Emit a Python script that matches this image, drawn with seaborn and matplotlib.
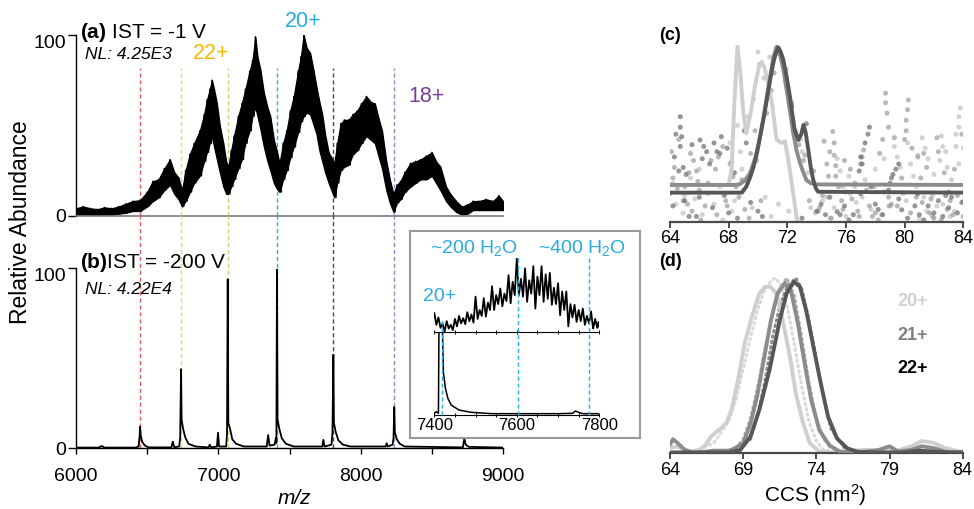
import numpy as np
import pandas as pd
import matplotlib
matplotlib.use("Agg")
import matplotlib.pyplot as plt
import matplotlib.transforms as mtransforms
import seaborn as sns

sns.set_theme(style="white")
plt.rcParams['font.family'] = ['Liberation Sans', 'DejaVu Sans']
plt.rcParams['mathtext.fontset'] = 'custom'
plt.rcParams['mathtext.rm'] = 'Liberation Sans'
plt.rcParams['mathtext.it'] = 'Liberation Sans:italic'
plt.rcParams['mathtext.bf'] = 'Liberation Sans:bold'
for key in ['text.color', 'xtick.color', 'ytick.color', 'axes.labelcolor']:
    plt.rcParams[key] = 'black'

# ---------------- data ----------------
# (a) IST = -1 V : noisy spectrum, upper / lower envelope
mz_a = [6000, 6050, 6100, 6150, 6200, 6250, 6300, 6350, 6400, 6450, 6500, 6540, 6580, 6620, 6660,
        6690, 6720, 6745, 6770, 6800, 6830, 6870, 6900, 6920, 6940, 6955, 6970, 6990, 7010, 7035,
        7055, 7070, 7090, 7110, 7140, 7165, 7190, 7220, 7240, 7260, 7275, 7295, 7320, 7345, 7365,
        7390, 7410, 7430, 7455, 7480, 7505, 7530, 7560, 7580, 7600, 7620, 7645, 7670, 7690, 7710,
        7730, 7750, 7775, 7795, 7815, 7835, 7860, 7885, 7915, 7945, 7975, 8005, 8040, 8070, 8100,
        8125, 8150, 8180, 8205, 8230, 8255, 8280, 8310, 8350, 8385, 8420, 8460, 8500, 8530, 8560,
        8600, 8630, 8670, 8710, 8750, 8790, 8830, 8880, 8930, 8970, 9000]
hi_a = [4, 5, 4, 3.5, 4.5, 4, 5, 6.5, 8, 8.5, 13, 19, 20, 26, 31,
        24, 21, 14, 25, 34, 40, 47, 56, 64, 70, 75, 70, 62, 50, 40,
        30, 27, 36, 44, 55, 62, 70, 80, 86, 99, 88, 81, 68, 60, 55,
        42, 36, 29, 40, 47, 58, 66, 80, 88, 100, 93, 90, 80, 71, 63,
        56, 45, 35, 32, 29, 40, 51, 53, 53, 56, 58, 62, 66, 63, 62,
        54, 47, 30, 20, 12, 17, 19, 24, 29, 30, 31, 33, 35, 30, 27,
        16, 12, 8, 5, 6, 8, 8, 9, 8, 11, 8]
lo_a = [0.5, 0.5, 0.3, 0.3, 0.5, 0.5, 1, 1.5, 2.5, 2.5, 5, 8, 10, 14, 17,
        12, 9, 5, 8, 13, 18, 22, 30, 35, 40, 44, 38, 31, 24, 16,
        12, 12, 16, 20, 26, 31, 40, 47, 55, 60, 55, 48, 38, 30, 25,
        18, 15, 13, 20, 25, 32, 38, 46, 52, 55, 57, 56, 50, 45, 36,
        30, 24, 18, 14, 10, 18, 25, 27, 28, 34, 36, 40, 44, 42, 40,
        33, 26, 14, 7, 2, 7, 9, 13, 16, 18, 20, 20, 22, 18, 14,
        8, 5, 2, 0.5, 1, 3, 3, 3, 3, 3, 3]

# (b) IST = -200 V
mz_b = [6000, 6160, 6180, 6200, 6420, 6440, 6447, 6450, 6455, 6465, 6485, 6510, 6670, 6680, 6690,
        6725, 6732, 6738, 6742, 6752, 6768, 6790, 6840, 6930, 6940, 6950, 6990, 6998, 7005, 7055,
        7061, 7066, 7070, 7082, 7098, 7125, 7180, 7340, 7350, 7360, 7395, 7404, 7408, 7412, 7416,
        7428, 7446, 7475, 7530, 7730, 7738, 7746, 7795, 7802, 7808, 7812, 7825, 7843, 7875, 7930,
        8175, 8183, 8190, 8225, 8231, 8236, 8240, 8254, 8275, 8310, 8718, 8728, 8738, 8760, 9000]
ab_b = [0.4, 0.4, 1.3, 0.4, 0.4, 1, 7, 12, 7, 3.5, 1.5, 0.5, 0.5, 3.7, 0.6,
        1, 6, 44, 16, 11, 6, 2.5, 1, 0.5, 2, 0.5, 1, 8.7, 1, 1,
        8, 94, 14, 11, 5, 2.5, 1, 1, 7.4, 1.5, 2, 5.6, 3, 100, 16,
        11, 5.5, 2.5, 1, 1, 4.7, 1, 2, 9, 52, 14, 9, 4.5, 2, 1,
        1, 2.8, 1, 2, 6, 23, 9, 5, 2.5, 1, 0.5, 5.6, 2, 0.8, 0.4]

# dashed guide lines (charge states 23+ ... 18+)
charge_mz = [6450, 6738, 7066, 7412, 7808, 8236]
charge_colors = ['#e0605c', '#f3d34a', '#b9d77a', '#2ab0e4', '#3b4a78', '#a77fd0']

# inset (zoom on 20+): upper spectrum maxima / minima
mz_it = [7400, 7410, 7420, 7430, 7440, 7450, 7460, 7470, 7480, 7490, 7500, 7510, 7520, 7530,
         7540, 7550, 7560, 7570, 7580, 7590, 7600, 7610, 7620, 7630, 7640, 7650, 7660, 7670,
         7680, 7690, 7700, 7710, 7720, 7730, 7740, 7750, 7760, 7770, 7780, 7790, 7798]
hi_it = [26, 20, 12, 15, 10, 18, 22, 19, 27, 24, 48, 30, 46, 40,
         62, 50, 59, 52, 77, 68, 100, 72, 86, 70, 89, 75, 89, 78,
         80, 60, 66, 55, 55, 38, 37, 30, 32, 22, 28, 18, 14]
lo_it = [10, 6, 1, 5, 3, 8, 12, 11, 15, 13, 18, 22, 21, 30,
         30, 38, 35, 42, 39, 50, 50, 48, 41, 52, 32, 50, 41, 45,
         37, 38, 23, 30, 8, 20, 14, 15, 10, 12, 5, 6, 1]
mz_ib = [7400, 7405, 7410, 7413, 7416, 7419, 7422, 7427, 7433, 7441, 7460, 7490, 7540,
         7600, 7700, 7735, 7742, 7750, 7760, 7800]
ab_ib = [0.5, 1, 0.5, 60, 60, 30, 13, 8, 5, 3, 1.5, 0.8, 0.4,
         0.4, 0.4, 0.5, 1.2, 0.8, 0.4, 0.4]
water_mz = [7418, 7602, 7774]

# (c) arrival-time fits (CCS, nm^2)
c_light_x = [64, 66, 68.0, 68.2, 68.4, 68.6, 68.8, 69.0, 69.2, 69.5, 69.8, 70.05, 70.25, 70.45,
             70.7, 70.95, 71.27, 71.6, 71.84, 72.07, 72.4, 72.64, 72.9, 84]
c_light_y = [21, 21, 21, 30, 70, 100, 85, 62, 50.5, 62, 78, 88, 91.4, 88,
             79, 67.8, 46.9, 45, 46, 35.3, 16.2, 2, -5, -5]
c_med_x = [64, 68.5, 68.77, 69.1, 69.45, 69.8, 70.1, 70.35, 70.6, 70.85, 71.05, 71.28, 71.5,
           71.75, 71.96, 72.2, 72.4, 72.65, 72.87, 73.1, 73.3, 73.6, 74.0, 84]
c_med_y = [21, 21, 21.5, 23.5, 27.6, 36, 46.7, 58, 71.4, 84, 94, 100, 96,
           86, 75, 62, 50.7, 40, 33.5, 28, 23.8, 22, 21.3, 21]
c_dark_x = [64, 68.9, 69.2, 69.45, 69.7, 69.95, 70.14, 70.4, 70.6, 70.85, 71.04, 71.2, 71.39,
            71.55, 71.73, 71.95, 72.18, 72.35, 72.5, 72.75, 72.95, 73.1, 73.25, 73.43, 73.6,
            73.77, 73.95, 74.1, 84]
c_dark_y = [16.6, 16.6, 20, 25, 31.4, 40, 48.6, 60, 69.5, 82, 90.5, 96, 99.6,
            97, 92.4, 83, 71.4, 61, 52.4, 46.7, 50, 55.3, 51, 41, 31,
            23.8, 19, 17.1, 16.6]

c_dots_dark_x = [64.7, 64.7, 64.8, 64.7, 66.05, 66.3, 66.5, 67.5, 67.9, 69.07, 69.2, 77.6, 77.5,
                 77.3, 79.2, 79.0, 64.3, 75.4, 79.8, 66.0, 68.0, 78.0, 81.0, 83.0, 73.0, 70.0,
                 65.3, 76.5, 82.3, 80.7, 74.6, 71.9, 72.3,
                 64.2, 65.0, 65.8, 66.9, 67.7, 68.6, 69.5, 70.3, 74.0, 74.9, 75.9, 77.0, 78.5,
                 79.6, 80.2, 81.6, 82.8, 83.6, 64.6, 66.7, 67.2, 73.3, 76.2, 78.9, 81.3, 83.9,
                 64.4, 64.9, 65.1, 65.5, 66.2, 67.0, 67.4, 68.2, 68.4, 76.9, 77.0, 77.1, 77.7,
                 79.1, 79.4, 79.6, 82.0, 82.6, 83.2, 74.3, 75.6, 80.9, 78.2]
c_dots_dark_y = [60, 54, 48.6, 43, 46.7, 43, 40, 48.6, 42, 52, 45, 54, 50,
                 45, 27, 22, 37, 5.7, 6.8, 14, 5, 10, 4, 8, 2, 6,
                 3, 4, 12, 9, 4, 80, 66,
                 9, 12, 3, 8, 15, 2, 11, 3, 6, 14, 9, 16, 4,
                 13, 2, 9, 15, 5, 29, 33, 40, 56, 1, 18, 1, 11,
                 50, 31, 27, 44, 36, 45, 39, 34, 28, 29, 37, 33, 20,
                 25, 30, 33, 5, 3, 14, 10, 4, 16, 7]
c_dots_med_x = [65.4, 65.6, 65.8, 65.9, 66.8, 67.1, 67.3, 67.6, 68.1, 68.3, 68.5, 69.8, 69.5,
                69.9, 75.1, 75.2, 75.2, 75.3, 75.3, 74.7, 74.8, 77.2, 77.1, 77.0, 78.7, 78.7,
                78.8, 78.9, 78.5, 78.3, 80.25, 80.2, 80.1, 80.1, 80.0, 81.3, 81.5, 82.2, 72.0,
                72.3, 72.6, 73.1, 73.8, 64.5, 64.3, 64.2, 64.9, 65.5, 66.4, 67.2, 68.7, 69.4,
                74.2, 75.7, 76.8, 77.8, 78.9, 80.4, 81.2, 82.0, 82.9, 83.6, 76.0, 79.5, 81.8,
                83.3, 73.5, 77.4,
                70.6, 70.9, 71.1, 71.4, 72.8, 73.2, 64.0, 65.2, 66.1, 67.9, 69.1, 70.2,
                74.4, 75.0, 76.4, 77.6, 78.2, 79.1, 80.8, 81.7, 82.5, 83.1, 84.0, 76.6, 79.8,
                64.1, 64.6, 65.0, 65.3, 66.0, 66.6, 67.8, 68.9, 74.5, 74.9, 75.5, 75.9, 76.3,
                77.9, 78.6, 79.3, 80.5, 80.9, 81.1, 82.3, 82.7, 83.4, 83.9, 74.1, 75.8, 78.0,
                81.9, 83.0, 79.0, 76.9]
c_dots_med_y = [39, 35, 29, 23, 35, 30, 37, 43, 33, 25.7, 20, 52, 39,
                35, 51.5, 45, 38, 32, 26, 33, 26, 41, 37, 33, 73.4, 68,
                62, 54, 47, 39, 69.5, 64, 58, 52, 47, 39, 31, 48, 77,
                68, 50, 35, 29, 19, 31, 25, 12, 6, 9, 4, 14, 2,
                8, 12, 6, 3, 14, 5, 11, 2, 7, 15, 17, 9, 13,
                4, 12, 18,
                62, 75, 85, 96, 44, 38, 16, 10, 1, 9, 7, 12,
                15, 2, 13, 9, 1, 10, 14, 5, 1, 12, 3, 22, 25,
                40, 47, 20, 28, 18, 22, 12, 24, 46, 40, 20, 35, 30,
                20, 17, 48, 42, 37, 25, 40, 28, 30, 50, 6, 7, 5,
                3, 17, 9, 3]
c_dots_light_x = [70.0, 70.1, 70.4, 70.8, 71.2, 71.6, 71.95, 72.4, 72.9, 73.4, 82.5, 82.6, 82.4,
                  82.9, 83.2, 83.8, 83.7, 83.7, 83.5, 83.7, 79.3, 79.5, 79.7, 80.4, 80.6, 80.8,
                  76.2, 76.3, 75.6, 75.8, 64.4, 65.0, 66.2, 67.0, 68.2, 69.0, 69.6, 70.5,
                  73.9, 74.9, 76.7, 77.7, 78.4, 79.9, 81.5, 82.2, 83.1, 84.0, 68.8, 68.9,
                  64.9, 65.7, 66.6, 67.6, 68.4, 70.9, 71.4, 72.1, 74.4, 75.2, 76.0, 77.1,
                  78.1, 78.9, 80.1, 81.0, 81.9, 82.6, 83.4, 81.2, 81.4, 81.6, 69.3, 69.7,
                  64.2, 65.4, 66.0, 67.4, 68.1, 68.6, 73.6, 74.7, 75.4, 76.6, 77.3, 78.0,
                  78.6, 80.2, 80.9, 81.3, 82.0, 82.8, 83.5, 84.0, 72.6, 73.0]
c_dots_light_y = [97, 90, 82, 94, 99, 93, 87, 58, 47, 28, 49, 43, 35,
                  31, 24, 65, 60, 54, 43, 33, 43, 37, 31, 33, 26, 20,
                  26, 16, 29, 20, 10, 15, 4, 10, 6, 18, 8, 14,
                  5, 2, 11, 7, 4, 16, 6, 9, 3, 12, 40, 30,
                  5, 13, 16, 1, 12, 3, 10, 6, 12, 8, 3, 14,
                  17, 9, 12, 2, 15, 10, 6, 48, 42, 36, 60, 70,
                  22, 25, 30, 20, 45, 55, 8, 14, 36, 20, 24, 30,
                  36, 45, 38, 14, 27, 40, 50, 42, 52, 40]

# (d) ATDs of 20+, 21+, 22+
d_light_x = [64, 64.5, 65, 65.5, 66, 66.4, 66.8, 67.2, 67.5, 67.9, 68.2, 68.65, 69.1, 69.6,
             70.1, 70.5, 70.85, 71.3, 71.7, 72.2, 72.6, 73.1, 73.56, 74.2, 74.8, 75.5, 76.5,
             77.5, 78.5, 79.5, 80.5, 81.2, 82, 82.8, 83.5, 84]
d_light_y = [3, 4, 2, 1, 2, 4.4, 9.5, 12.5, 14.3, 18, 24.7, 41.8, 62.7, 78,
             91, 95, 95, 91, 76, 55, 34, 17, 5.7, 1, 0.5, 0.5, 1.5,
             2, 1, 1.5, 4, 7, 6, 3, 1.5, 1]
d_med_x = [64, 64.2, 64.5, 65, 65.5, 66, 66.5, 67, 67.5, 68, 68.35, 69.0, 69.5, 69.95, 70.4,
           70.9, 71.35, 71.86, 72.3, 72.74, 73.2, 73.65, 74.2, 74.9, 75.6, 76.5, 77.5, 78.3,
           79, 79.6, 80.5, 81.2, 82, 82.8, 83.5, 84]
d_med_y = [5, 8, 6, 2, 0.5, 0.5, 1, 1.5, 1.5, 1.5, 2.5, 5.7, 17, 32.3, 53,
           76, 91.3, 97, 91.3, 74, 51.3, 30.4, 13.3, 4.4, 1, 0.5, 1, 2,
           4, 1, 2, 4, 3, 1, 0.5, 0.5]
d_dark_x = [64, 65, 66, 67, 68, 68.8, 69.5, 70.1, 70.8, 71.5, 71.97, 72.47, 72.88, 73.3, 73.8,
            74.3, 74.8, 75.4, 76.1, 76.8, 78, 79, 80, 81, 82, 83, 84]
d_dark_y = [0.5, 0.5, 0.5, 0.5, 0.5, 1.9, 9.5, 24.7, 47.5, 76, 91.3, 97.9, 95, 81.7, 60.8,
            40, 20.9, 8.6, 2.9, 0.9, 0.5, 0.5, 0.5, 1.5, 1, 0.5, 0.5]
d_dl_x = [66, 67, 68, 68.5, 69, 69.5, 70, 70.5, 71, 71.2, 71.5, 72, 72.5, 73, 73.5, 74, 74.5, 75.5]
d_dl_y = [2, 6, 18, 30, 48, 66, 82, 94, 99, 100, 97, 84, 62, 38, 18, 7, 2, 0.5]
d_dm_x = [68.5, 69, 69.5, 70, 70.5, 71, 71.5, 71.97, 72.5, 73, 73.5, 74, 74.5, 75.5]
d_dm_y = [3, 8, 20, 38, 60, 80, 94, 100, 90, 66, 40, 20, 8, 1]
d_dd_x = [69.5, 70, 70.5, 71, 71.5, 72, 72.6, 73, 73.5, 74, 74.5, 75, 76]
d_dd_y = [8, 22, 42, 66, 84, 95, 100, 94, 76, 54, 31, 14, 2]

legend_labels = ['20+', '21+', '22+']
grey_light, grey_med, grey_dark = '#cfcfcf', '#8c8c8c', '#575757'

# ---------------- layout helpers ----------------
W, H = 974, 509
fig = plt.figure(figsize=(W / 100, H / 100), dpi=100)


def rect(l, t, r, b):
    return [l / W, 1 - b / H, (r - l) / W, (b - t) / H]


def ftext(px, py, s, **kw):
    fig.text(px / W, 1 - py / H, s, **kw)


def clean(ax, left=False):
    ax.set_facecolor('none')
    for s in ['top', 'right']:
        ax.spines[s].set_visible(False)
    if not left:
        ax.spines['left'].set_visible(False)
        ax.set_yticks([])
    ax.set_xlabel('')
    ax.set_ylabel('')


def zigzag(x, hi, lo, dx):
    xs = np.ravel(np.column_stack([np.asarray(x, float), np.asarray(x, float) + dx]))
    ys = np.ravel(np.column_stack([hi, lo]))
    return xs, ys


# ---------------- panel (a) ----------------
ax_a = fig.add_axes(rect(76, 35, 503, 215.5))
ax_a.fill_between(mz_a, lo_a, hi_a, color='black', lw=0.9)
za_x, za_y = zigzag(mz_a, hi_a, lo_a, 12)
sns.lineplot(x=za_x, y=za_y, ax=ax_a, color='black', lw=1.0, sort=False)
ax_a.set_xlim(6000, 9000)
ax_a.set_ylim(0, 100)
clean(ax_a, left=True)
ax_a.spines['left'].set_color('black')
ax_a.spines['left'].set_linewidth(1.0)
ax_a.spines['bottom'].set_color('#7a7a7a')
ax_a.spines['bottom'].set_linewidth(1.2)
ax_a.set_xticks([])
ax_a.set_yticks([0, 100])
ax_a.set_yticklabels(['0', '100'], fontsize=14)
ax_a.tick_params(axis='y', direction='out', length=6, width=1, color='black', left=True, pad=1)
for mz, c in zip(charge_mz, charge_colors):
    ax_a.axvline(mz, 0, 0.8155, color=c, ls=(0, (3, 2)), lw=1.0, zorder=0.5)

# ---------------- panel (b) ----------------
ax_b = fig.add_axes(rect(76, 268.5, 503, 448.3))
sns.lineplot(x=mz_b, y=ab_b, ax=ax_b, color='black', lw=1.3)
ax_b.set_xlim(6000, 9000)
ax_b.set_ylim(0, 100)
clean(ax_b, left=True)
for s in ['left', 'bottom']:
    ax_b.spines[s].set_color('black')
    ax_b.spines[s].set_linewidth(1.0)
ticks_b = np.arange(6000, 9001, 500)
ax_b.set_xticks(ticks_b)
ax_b.set_xticklabels([str(t) if t % 1000 == 0 else '' for t in ticks_b], fontsize=14)
ax_b.tick_params(axis='x', direction='out', length=4, width=1, color='black', bottom=True, pad=10)
ax_b.set_yticks([0, 100])
ax_b.set_yticklabels(['0', '100'], fontsize=14)
ax_b.tick_params(axis='y', direction='out', length=6, width=1, color='black', left=True, pad=1)
for mz, c in zip(charge_mz, charge_colors):
    ax_b.axvline(mz, 0, 1.295, color=c, ls=(0, (3, 2)), lw=1.0, zorder=0.5, clip_on=False)

# shift the "100" labels slightly down like the reference
for ax in (ax_a, ax_b):
    lab = ax.get_yticklabels()[1]
    lab.set_transform(lab.get_transform() + mtransforms.ScaledTranslation(0, -6 / 100, fig.dpi_scale_trans))

# ---------------- inset ----------------
ax_box = fig.add_axes(rect(410, 231, 640, 438))
ax_box.set_xticks([])
ax_box.set_yticks([])
ax_box.set_facecolor('white')
for s in ax_box.spines.values():
    s.set_color('#9a9a9a')
    s.set_linewidth(1.5)

ax_it = fig.add_axes(rect(434.3, 258, 599.3, 332.3))
zi_x, zi_y = zigzag(mz_it, hi_it, lo_it, 5)
sns.lineplot(x=zi_x, y=zi_y, ax=ax_it, color='black', lw=1.3, sort=False)
ax_it.set_xlim(7400, 7800)
ax_it.set_ylim(0, 100)
clean(ax_it)
ax_it.spines['bottom'].set_color('black')
ax_it.spines['bottom'].set_linewidth(0.8)
ax_it.set_xticks(np.arange(7400, 7801, 50))
ax_it.set_xticklabels([])
ax_it.tick_params(axis='x', direction='inout', length=3, width=0.7, color='black', bottom=True)

ax_ib = fig.add_axes(rect(434.3, 332.3, 599.3, 415))
sns.lineplot(x=mz_ib, y=ab_ib, ax=ax_ib, color='black', lw=1.1)
ax_ib.set_xlim(7400, 7800)
ax_ib.set_ylim(0, 25)
clean(ax_ib)
ax_ib.spines['bottom'].set_color('black')
ax_ib.spines['bottom'].set_linewidth(0.8)
ticks_i = np.arange(7400, 7801, 50)
ax_ib.set_xticks(ticks_i)
ax_ib.set_xticklabels([str(t) if t % 200 == 0 else '' for t in ticks_i], fontsize=12)
ax_ib.tick_params(axis='x', direction='inout', length=3, width=0.7, color='black', bottom=True, pad=1)
for mz, top in zip(water_mz, [1.173, 1.898, 1.898]):
    ax_ib.axvline(mz, 0, top, color='#2ab0e4', ls=(0, (3, 2)), lw=1.0, clip_on=False, zorder=3)

cyan = '#29abe2'
ftext(474, 248.3, r'~200 H$_2$O', color=cyan, fontsize=14, ha='center', va='center')
ftext(581.7, 248.3, r'~400 H$_2$O', color=cyan, fontsize=14, ha='center', va='center')
ftext(440, 296.7, '20+', color=cyan, fontsize=14, ha='center', va='center')

# ---------------- texts for (a)/(b) ----------------
ftext(80, 32, r'$\mathbf{(a)}$ IST = -1 V', fontsize=15, ha='left', va='center')
ftext(85, 54.5, 'NL: 4.25E3', fontsize=12.5, style='italic', ha='left', va='center')
ftext(80, 262, r'$\mathbf{(b)}$IST = -200 V', fontsize=15, ha='left', va='center')
ftext(85, 289.5, 'NL: 4.22E4', fontsize=12.5, style='italic', ha='left', va='center')
ftext(211.5, 53.5, '22+', color='#f7b900', fontsize=15.5, ha='center', va='center')
ftext(303, 21.7, '20+', color=cyan, fontsize=15.5, ha='center', va='center')
ftext(427, 96.7, '18+', color='#7a3e9d', fontsize=15.5, ha='center', va='center')
ftext(20.7, 222.5, 'Relative Abundance', fontsize=16.5, rotation=90, ha='center', va='center')
ftext(294, 498, 'm/z', fontsize=15, style='italic', ha='center', va='center')

# ---------------- panel (c) ----------------
ax_c = fig.add_axes(rect(670, 43.2, 963.3, 221.7))
sns.scatterplot(x=c_dots_light_x, y=c_dots_light_y, ax=ax_c, color='#c4c4c4', s=13,
                alpha=0.75, edgecolor='none', zorder=1)
sns.scatterplot(x=c_dots_med_x, y=c_dots_med_y, ax=ax_c, color='#9a9a9a', s=13,
                alpha=0.7, edgecolor='none', zorder=1)
sns.scatterplot(x=c_dots_dark_x, y=c_dots_dark_y, ax=ax_c, color='#6a6a6a', s=13,
                alpha=0.7, edgecolor='none', zorder=1)
sns.lineplot(x=c_light_x, y=c_light_y, ax=ax_c, color=grey_light, lw=2.8, zorder=2, sort=False)
sns.lineplot(x=c_med_x, y=c_med_y, ax=ax_c, color=grey_med, lw=2.8, zorder=3, sort=False)
sns.lineplot(x=c_dark_x, y=c_dark_y, ax=ax_c, color=grey_dark, lw=2.8, zorder=4, sort=False)
ax_c.set_xlim(64, 84)
ax_c.set_ylim(0, 102)
clean(ax_c)
ax_c.spines['bottom'].set_color('#4a4a4a')
ax_c.spines['bottom'].set_linewidth(1.6)
ax_c.set_xticks(np.arange(64, 85, 4))
ax_c.set_xticklabels([str(t) for t in np.arange(64, 85, 4)], fontsize=13)
ax_c.tick_params(axis='x', direction='out', length=4, width=1.4, color='#4a4a4a', bottom=True, pad=2)
ftext(670, 36, '(c)', fontsize=13, fontweight='bold', ha='center', va='center')

# ---------------- panel (d) ----------------
ax_d = fig.add_axes(rect(670, 274.5, 962.7, 453.3))
dot_kw = dict(lw=2.2, ls=(0, (0.5, 1.3)), dash_capstyle='round', sort=False)
sns.lineplot(x=d_dl_x, y=d_dl_y, ax=ax_d, color='#d8d8d8', zorder=1, **dot_kw)
sns.lineplot(x=d_dm_x, y=d_dm_y, ax=ax_d, color='#b0b0b0', zorder=1, **dot_kw)
sns.lineplot(x=d_dd_x, y=d_dd_y, ax=ax_d, color='#8a8a8a', zorder=1, **dot_kw)
sns.lineplot(x=d_light_x, y=d_light_y, ax=ax_d, color=grey_light, lw=2.8, zorder=2, sort=False)
sns.lineplot(x=d_med_x, y=d_med_y, ax=ax_d, color=grey_med, lw=2.8, zorder=3, sort=False)
sns.lineplot(x=d_dark_x, y=d_dark_y, ax=ax_d, color=grey_dark, lw=2.8, zorder=4, sort=False)
ax_d.set_xlim(64, 84)
ax_d.set_ylim(0, 102)
clean(ax_d)
ax_d.spines['bottom'].set_color('#4a4a4a')
ax_d.spines['bottom'].set_linewidth(1.6)
ax_d.set_xticks(np.arange(64, 85, 5))
ax_d.set_xticklabels([str(t) for t in np.arange(64, 85, 5)], fontsize=13)
ax_d.tick_params(axis='x', direction='out', length=4, width=1.4, color='#4a4a4a', bottom=True, pad=2)
ftext(670, 262, '(d)', fontsize=13, fontweight='bold', ha='center', va='center')
ftext(815, 495, 'CCS (nm$^2$)', fontsize=15, ha='center', va='center')

for lab, col, py in zip(legend_labels, ['#d0d0d0', '#808080', '#000000'], [301.7, 335, 368.3]):
    ftext(913, py, lab, color=col, fontsize=13, fontweight='bold', ha='center', va='center')

fig.savefig('out.png', dpi=100)
